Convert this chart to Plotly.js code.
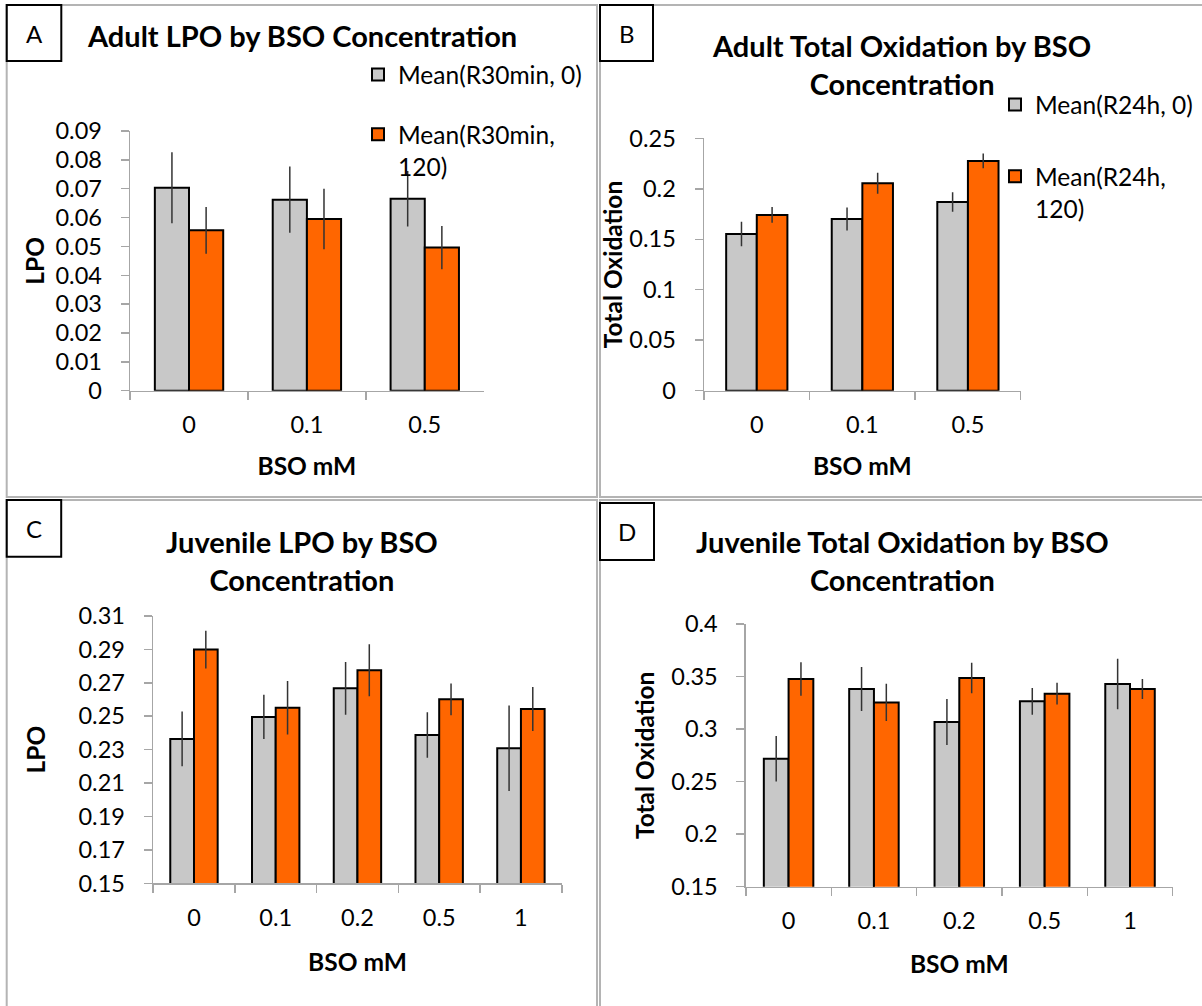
<!DOCTYPE html>
<html>
<head>
<meta charset="utf-8">
<script src="https://cdn.plot.ly/plotly-3.0.1.min.js"></script>
<style>html,body{margin:0;padding:0;background:#fff;}#chart{width:1202px;height:1006px;}</style>
</head>
<body>
<div id="chart"></div>
<script>
// ---------- data ----------
const catsAdult = ["0", "0.1", "0.5"];
const catsJuv = ["0", "0.1", "0.2", "0.5", "1"];

const adultLpo0 = [0.0703, 0.0662, 0.0665];
const adultLpo0Err = [0.0123, 0.0115, 0.0096];
const adultLpo120 = [0.0556, 0.0595, 0.0496];
const adultLpo120Err = [0.0081, 0.0105, 0.0075];

const adultTot0 = [0.1552, 0.1701, 0.1869];
const adultTot0Err = [0.0122, 0.0114, 0.0097];
const adultTot120 = [0.1741, 0.2055, 0.2276];
const adultTot120Err = [0.0078, 0.0103, 0.0073];

const juvLpo0 = [0.2364, 0.2496, 0.2667, 0.2388, 0.2308];
const juvLpo0Err = [0.0164, 0.0132, 0.0158, 0.0136, 0.0256];
const juvLpo120 = [0.2899, 0.2551, 0.2775, 0.2601, 0.2543];
const juvLpo120Err = [0.0113, 0.0160, 0.0156, 0.0095, 0.0132];

const juvTot0 = [0.2718, 0.3381, 0.3067, 0.3264, 0.3429];
const juvTot0Err = [0.0216, 0.0210, 0.0219, 0.0127, 0.0241];
const juvTot120 = [0.3477, 0.3254, 0.3486, 0.3337, 0.3381];
const juvTot120Err = [0.0160, 0.0178, 0.0146, 0.0103, 0.0095];

const ticksA = [0, 0.01, 0.02, 0.03, 0.04, 0.05, 0.06, 0.07, 0.08, 0.09];
const ticksB = [0, 0.05, 0.1, 0.15, 0.2, 0.25];
const ticksC = [0.15, 0.17, 0.19, 0.21, 0.23, 0.25, 0.27, 0.29, 0.31];
const ticksD = [0.15, 0.2, 0.25, 0.3, 0.35, 0.4];

const namesA = ["Mean(R30min, 0)", "Mean(R30min,<br>120)"];
const namesB = ["Mean(R24h, 0)", "Mean(R24h,<br>120)"];

// ---------- styling ----------
const W = 1202, H = 1006;
const px = x => x / W;
const py = y => 1 - y / H;
const GRAY = '#c8c8c8', ORANGE = '#ff6600';
const FONT = 'Lato';

function barTrace(x, y, err, color, name, xa, ya, legend, group, show) {
  return {
    type: 'bar', x: x, y: y, name: name,
    xaxis: xa, yaxis: ya, legend: legend, legendgroup: group, showlegend: show,
    marker: {color: color, line: {color: '#000', width: 2}},
    error_y: {type: 'data', array: err, visible: true, color: '#333', thickness: 1.5, width: 0},
    hoverinfo: 'skip'
  };
}

const data = [
  barTrace(catsAdult, adultLpo0, adultLpo0Err, GRAY, namesA[0], 'x', 'y', 'legend', 'a0', true),
  barTrace(catsAdult, adultLpo120, adultLpo120Err, ORANGE, namesA[1], 'x', 'y', 'legend', 'a1', true),
  barTrace(catsAdult, adultTot0, adultTot0Err, GRAY, namesB[0], 'x2', 'y2', 'legend2', 'b0', true),
  barTrace(catsAdult, adultTot120, adultTot120Err, ORANGE, namesB[1], 'x2', 'y2', 'legend2', 'b1', true),
  barTrace(catsJuv, juvLpo0, juvLpo0Err, GRAY, '0', 'x3', 'y3', 'legend', 'c0', false),
  barTrace(catsJuv, juvLpo120, juvLpo120Err, ORANGE, '120', 'x3', 'y3', 'legend', 'c1', false),
  barTrace(catsJuv, juvTot0, juvTot0Err, GRAY, '0', 'x4', 'y4', 'legend', 'd0', false),
  barTrace(catsJuv, juvTot120, juvTot120Err, ORANGE, '120', 'x4', 'y4', 'legend', 'd1', false)
];

const baseAx = {
  showline: true, linecolor: '#a6a6a6', linewidth: 1.5,
  ticks: 'outside', ticklen: 8, tickcolor: '#a6a6a6', tickwidth: 1.5,
  showgrid: false, zeroline: false, automargin: false, fixedrange: true,
  tickfont: {family: FONT, size: 23.5, color: '#000'}
};
const titleFont = {family: FONT, size: 24.5, color: '#000', weight: 700};

function xAx(n, d0, d1, anchor, standoff) {
  return Object.assign({}, baseAx, {
    type: 'category', tickson: 'boundaries', range: [-0.5, n - 0.5],
    domain: [px(d0), px(d1)], anchor: anchor, ticklabelstandoff: 13,
    title: {text: 'BSO mM', font: titleFont, standoff: standoff}
  });
}
function yAx(range, ticks, d0, d1, anchor, title, standoff) {
  return Object.assign({}, baseAx, {
    range: range, tickmode: 'array', tickvals: ticks,
    domain: [py(d1), py(d0)], anchor: anchor, ticklabelstandoff: 14,
    title: {text: title, font: titleFont, standoff: standoff}
  });
}

function box(x0, y0, x1, y1, color, w) {
  return {type: 'rect', xref: 'paper', yref: 'paper', x0: px(x0), x1: px(x1), y0: py(y0), y1: py(y1),
          line: {color: color, width: w}, fillcolor: 'rgba(0,0,0,0)', layer: 'above'};
}
function label(x, y, text, size, bold) {
  return {xref: 'paper', yref: 'paper', x: px(x), y: py(y), text: text, showarrow: false,
          xanchor: 'center', yanchor: 'middle',
          font: {family: FONT, size: size, color: '#000', weight: bold ? 700 : 400}};
}

const layout = {
  width: W, height: H,
  margin: {l: 0, r: 0, t: 0, b: 0},
  paper_bgcolor: '#fff', plot_bgcolor: 'rgba(0,0,0,0)',
  barmode: 'group', bargap: 0.42, bargroupgap: 0,
  font: {family: FONT, color: '#000'},
  xaxis: xAx(3, 130.1, 483.7, 'y', 20),
  yaxis: yAx([0, 0.09], ticksA, 131, 390.7, 'x', 'LPO', 4),
  xaxis2: xAx(3, 704, 1020.7, 'y2', 20),
  yaxis2: yAx([0, 0.25], ticksB, 138.3, 390.7, 'x2', 'Total Oxidation', 0),
  xaxis3: xAx(5, 153.1, 561.8, 'y3', 24),
  yaxis3: yAx([0.15, 0.31], ticksC, 616, 883.3, 'x3', 'LPO', 26),
  xaxis4: xAx(5, 745.9, 1172.7, 'y4', 22),
  yaxis4: yAx([0.15, 0.4], ticksD, 624, 886.7, 'x4', 'Total Oxidation', 9),
  legend: {
    x: px(358), y: py(52), xanchor: 'left', yanchor: 'top',
    bgcolor: 'rgba(0,0,0,0)', font: {family: FONT, size: 24.5, color: '#000'},
    traceorder: 'grouped', tracegroupgap: 25, valign: 'top'
  },
  legend2: {
    x: px(995), y: py(82), xanchor: 'left', yanchor: 'top',
    bgcolor: 'rgba(0,0,0,0)', font: {family: FONT, size: 24.5, color: '#000'},
    traceorder: 'grouped', tracegroupgap: 37, valign: 'top'
  },
  shapes: [
    box(6.7, 5, 597, 497, '#b4b4b4', 2),
    box(600, 5, 1210, 497, '#b4b4b4', 2),
    box(6.7, 500, 597, 1015, '#b4b4b4', 2),
    box(600, 500, 1210, 1015, '#b4b4b4', 2),
    box(6.7, 5, 61.3, 61, '#000', 2),
    box(600, 5, 653, 61, '#000', 2),
    box(6.7, 500, 61.2, 556.7, '#000', 2),
    box(600, 503, 654, 560, '#000', 2)
  ],
  annotations: [
    label(34, 33, 'A', 24, false),
    label(626.5, 33, 'B', 24, false),
    label(34, 528, 'C', 24, false),
    label(627, 531, 'D', 24, false),
    label(301.5, 35, 'Adult LPO by BSO Concentration', 29, true),
    label(901, 64, 'Adult Total Oxidation by BSO<br>Concentration', 29, true),
    label(302, 560.5, 'Juvenile LPO by BSO<br>Concentration', 29, true),
    label(902, 560.5, 'Juvenile Total Oxidation by BSO<br>Concentration', 29, true)
  ]
};

Plotly.newPlot('chart', data, layout, {staticPlot: true, displayModeBar: false});
</script>
</body>
</html>
